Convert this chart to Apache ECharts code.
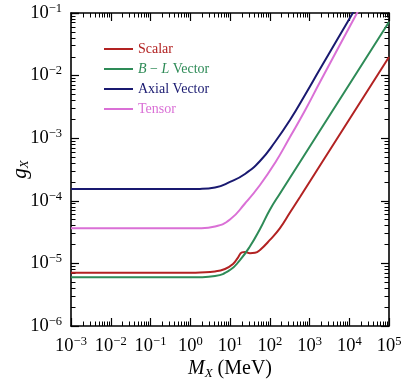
<!DOCTYPE html>
<html>
<head>
<meta charset="utf-8">
<script src="https://cdn.jsdelivr.net/npm/echarts@6.0.0/dist/echarts.min.js"></script>
<style>
  html, body { margin: 0; padding: 0; background: #fff; }
  #main { width: 407px; height: 384px; }
</style>
</head>
<body>
<div id="main"></div>
<script>
// values (mass in MeV, coupling g_X)
var scalarMass = [1e-3, 0.1, 1, 1.76, 4.2, 7.48, 11.9, 15.9, 20.0, 23.8, 31.8, 42.6, 56.9, 101, 181, 323, 577, 1837, 1e5];
var scalarG = [7.1e-6, 7.1e-6, 7.12e-6, 7.18e-6, 7.43e-6, 8.15e-6, 9.78e-6, 1.24e-5, 1.5e-5, 1.52e-5, 1.455e-5, 1.476e-5, 1.64e-5, 2.37e-5, 3.67e-5, 6.5e-5, 1.15e-4, 3.66e-4, 1.98e-2];

var vectorMass = [1e-3, 0.1, 1, 1.76, 4.2, 10, 17.8, 31.6, 56.9, 100, 181, 577, 1837, 1e5];
var vectorG = [6.0e-6, 6.0e-6, 6.0e-6, 6.02e-6, 6.3e-6, 7.85e-6, 1.13e-5, 1.86e-5, 3.55e-5, 7.13e-5, 1.31e-4, 4.17e-4, 1.33e-3, 7.18e-2];

var axialMass = [1e-3, 0.1, 1, 1.76, 4.2, 10, 23.8, 56.9, 135.5, 323, 770, 1837, 12300, 31600];
var axialG = [1.545e-4, 1.545e-4, 1.545e-4, 1.55e-4, 1.63e-4, 2.0e-4, 2.68e-4, 4.32e-4, 8.69e-4, 1.95e-3, 4.9e-3, 1.27e-2, 0.1, 0.277];

var tensorMass = [1e-3, 0.1, 1, 1.76, 4.2, 10, 23.8, 56.9, 135.5, 323, 770, 1837, 15700, 31600];
var tensorG = [3.63e-5, 3.63e-5, 3.63e-5, 3.64e-5, 3.88e-5, 5.02e-5, 9.05e-5, 1.79e-4, 4.02e-4, 1.045e-3, 2.77e-3, 7.91e-3, 0.1, 0.223];

var seriesNames = ['Scalar', 'B − L Vector', 'Axial Vector', 'Tensor'];
var seriesColors = ['#b22222', '#2e8b57', '#191970', '#da70d6'];

var serif = 'Liberation Serif';

function pairs(xs, ys) {
	var out = [];
	for (var i = 0; i < xs.length; i++) out.push([xs[i], ys[i]]);
	return out;
}

function powLabel(value) {
	var e = Math.round(Math.log10(value));
	var s = e < 0 ? '−' + (-e) : '' + e;
	return '{n|10}{s|' + s + '}';
}

var labelRich = {
	n: { fontFamily: serif, fontSize: 18.5, lineHeight: 22, color: '#000' },
	s: { fontFamily: serif, fontSize: 12.5, lineHeight: 13, verticalAlign: 'top', color: '#000' }
};

function logAxis(pos, min, max, showLabel) {
	return {
		type: 'log',
		logBase: 10,
		min: min,
		max: max,
		position: pos,
		splitNumber: 8,
		axisLine: { show: true, onZero: false, lineStyle: { color: '#000', width: 1.6 } },
		axisTick: { show: true, inside: true, length: 8, lineStyle: { color: '#000', width: 1.2 } },
		minorTick: { show: true, splitNumber: 9, length: 4.5, lineStyle: { color: '#000', width: 1 } },
		splitLine: { show: false },
		minorSplitLine: { show: false },
		axisLabel: {
			show: showLabel,
			interval: 0,
			showMinLabel: true,
			showMaxLabel: true,
			hideOverlap: false,
			formatter: powLabel,
			rich: labelRich
		}
	};
}

var myChart = echarts.init(document.getElementById('main'));

var xBottom = logAxis('bottom', 1e-3, 1e5, true);
xBottom.axisLabel.margin = 9;
xBottom.name = '{i|M}{sub|X} (MeV)';
xBottom.nameLocation = 'middle';
xBottom.nameGap = 32;
xBottom.nameMoveOverlap = false;
xBottom.nameTextStyle = {
	fontFamily: serif, fontSize: 20, color: '#000',
	rich: {
		i: { fontFamily: serif, fontStyle: 'italic', fontSize: 20, lineHeight: 22 },
		sub: { fontFamily: serif, fontStyle: 'italic', fontSize: 13, lineHeight: 13, verticalAlign: 'bottom' }
	}
};

var yLeft = logAxis('left', 1e-6, 1e-1, true);
yLeft.axisLabel.margin = 9;
yLeft.name = '{i|g}{sub|X}';
yLeft.nameLocation = 'middle';
yLeft.nameGap = 40;
yLeft.nameRotate = 90;
yLeft.nameMoveOverlap = false;
yLeft.nameTextStyle = {
	fontFamily: serif, fontSize: 21, color: '#000',
	rich: {
		i: { fontFamily: serif, fontStyle: 'italic', fontSize: 21, lineHeight: 22 },
		sub: { fontFamily: serif, fontStyle: 'italic', fontSize: 13, lineHeight: 13, verticalAlign: 'bottom' }
	}
};

var lineSets = [
	pairs(scalarMass, scalarG),
	pairs(vectorMass, vectorG),
	pairs(axialMass, axialG),
	pairs(tensorMass, tensorG)
];

var series = [];
for (var k = 0; k < lineSets.length; k++) {
	series.push({
		name: seriesNames[k],
		type: 'line',
		xAxisIndex: 0,
		yAxisIndex: 0,
		symbol: 'none',
		smooth: 0.5,
		clip: true,
		color: seriesColors[k],
		lineStyle: { width: 2, color: seriesColors[k] },
		data: lineSets[k]
	});
}

var option = {
	animation: false,
	backgroundColor: '#fff',
	// fixed plot box, do not let v6 shrink it to fit the labels
	grid: { left: 71, right: 18, top: 13, bottom: 58, containLabel: false, outerBoundsMode: 'none' },
	legend: {
		orient: 'vertical',
		left: 99,
		top: 37,
		icon: 'rect',
		itemWidth: 29,
		itemHeight: 2,
		itemGap: 6,
		textStyle: {
			fontFamily: serif, fontSize: 14, lineHeight: 14,
			rich: {
				it: { fontFamily: serif, fontStyle: 'italic', fontSize: 14, color: seriesColors[1] },
				t: { fontFamily: serif, fontSize: 14, color: seriesColors[1] }
			}
		},
		formatter: function (name) {
			if (name === seriesNames[1]) return '{it|B}{t| − }{it|L}{t| Vector}';
			return name;
		},
		data: seriesNames.map(function (n, i) {
			return { name: n, textStyle: { color: seriesColors[i] } };
		})
	},
	xAxis: [xBottom, logAxis('top', 1e-3, 1e5, false)],
	yAxis: [yLeft, logAxis('right', 1e-6, 1e-1, false)],
	series: series
};

myChart.setOption(option);
</script>
</body>
</html>
